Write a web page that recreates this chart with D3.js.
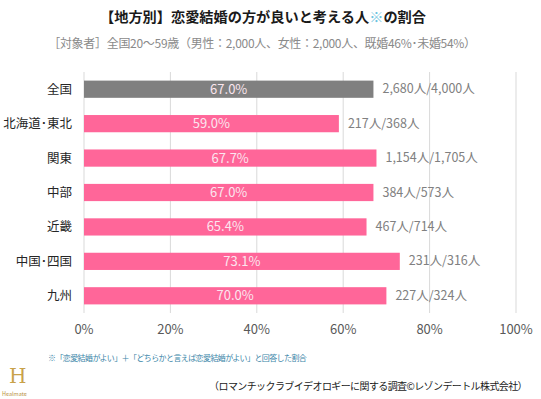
<!DOCTYPE html>
<html><head><meta charset="utf-8">
<script src="https://cdn.jsdelivr.net/npm/d3@7"></script>
<style>body{margin:0;background:#fff;} svg{display:block;font-family:"Noto Sans CJK JP","Noto Sans",sans-serif;}</style>
</head><body>
<script>
const categories = ["全国","北海道･東北","関東","中部","近畿","中国･四国","九州"];
const values = [67.0,59.0,67.7,67.0,65.4,73.1,70.0];
const counts = ["2,680人/4,000人","217人/368人","1,154人/1,705人","384人/573人","467人/714人","231人/316人","227人/324人"];
const ticks = [0,20,40,60,80,100];

const W=541,H=399;
const svg=d3.select("body").append("svg").attr("width",W).attr("height",H);
const x=d3.scaleLinear().domain([0,100]).range([84,516]);
const y=d3.scaleBand().domain(categories).range([72,313]).paddingInner(0.5).paddingOuter(0.25);

// title
const t=svg.append("text").attr("x",263).attr("y",22).attr("text-anchor","middle")
  .attr("font-size",14.2).attr("font-weight","bold").attr("fill","#1a1a1a");
t.append("tspan").text("【地方別】恋愛結婚の方が良いと考える人");
t.append("tspan").attr("fill","#6cc3e0").attr("font-weight","normal").text("※");
t.append("tspan").text("の割合");
svg.append("text").attr("x",262).attr("y",48).attr("text-anchor","middle")
  .attr("font-size",12).attr("fill","#8a8a8a").attr("letter-spacing",-0.3)
  .text("［対象者］全国20～59歳（男性：2,000人、女性：2,000人、既婚46%･未婚54%）");

// grid
svg.append("g").selectAll("line").data(ticks).join("line")
  .attr("x1",d=>x(d)).attr("x2",d=>x(d)).attr("y1",72).attr("y2",313)
  .attr("stroke","#d9d9d9").attr("stroke-width",1);

// axis labels
svg.append("g").selectAll("text").data(ticks).join("text")
  .attr("x",d=>x(d)).attr("y",334).attr("text-anchor","middle")
  .attr("font-size",13).attr("fill","#595959").text(d=>d+"%");

// bars
svg.append("g").selectAll("rect").data(categories).join("rect")
  .attr("x",x(0)).attr("y",d=>y(d)).attr("height",y.bandwidth())
  .attr("width",(d,i)=>x(values[i])-x(0))
  .attr("fill",(d,i)=>i===0?"#808080":"#ff6699");

// value labels
svg.append("g").selectAll("text").data(categories).join("text")
  .attr("x",(d,i)=>(x(0)+x(values[i]))/2).attr("y",d=>y(d)+y.bandwidth()/2+4.5)
  .attr("text-anchor","middle").attr("font-size",13).attr("fill","#fbe5ee")
  .text((d,i)=>values[i].toFixed(1)+"%");

// count labels
svg.append("g").selectAll("text").data(categories).join("text")
  .attr("x",(d,i)=>x(values[i])+9).attr("y",d=>y(d)+y.bandwidth()/2+4)
  .attr("font-size",12.5).attr("fill","#808080")
  .text((d,i)=>counts[i]);

// category labels
svg.append("g").selectAll("text").data(categories).join("text")
  .attr("x",72).attr("y",d=>y(d)+y.bandwidth()/2+4.5)
  .attr("text-anchor","end").attr("font-size",12.5).attr("fill","#262626")
  .text(d=>d);

// footnote
svg.append("text").attr("x",48).attr("y",361).attr("font-size",8).attr("fill","#3b86a8")
  .attr("letter-spacing",-0.6)
  .text("※「恋愛結婚がよい」＋「どちらかと言えば恋愛結婚がよい」と回答した割合");
svg.append("text").attr("x",527).attr("y",390).attr("text-anchor","end")
  .attr("font-size",10).attr("fill","#1a1a1a").attr("letter-spacing",-0.6)
  .text("（ロマンチックラブイデオロギーに関する調査©レゾンデートル株式会社）");

// logo
const lg=svg.append("g");
lg.append("text").attr("x",9).attr("y",383).attr("font-size",20).attr("fill","#c9a24a")
  .attr("font-family","DejaVu Serif").text("H");
lg.append("text").attr("x",2).attr("y",396).attr("font-size",5.5).attr("fill","#b8923e").text("Healmate");
</script>
</body></html>
